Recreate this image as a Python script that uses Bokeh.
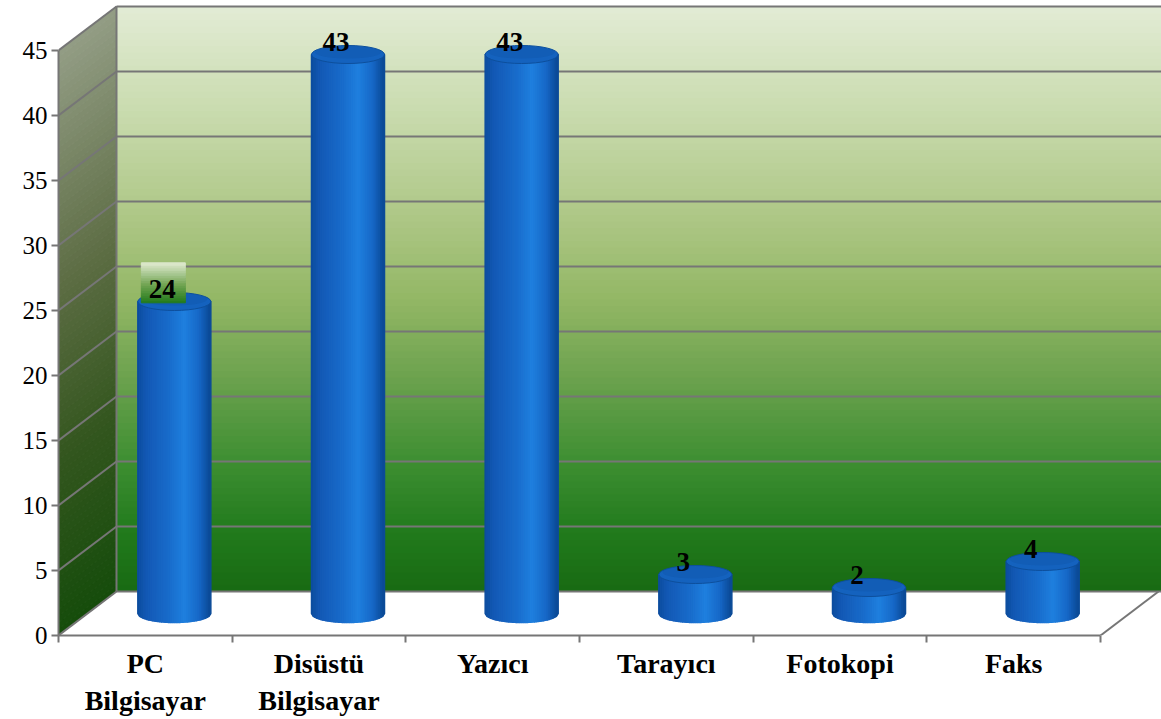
import numpy as np
from bokeh.plotting import figure
from bokeh.models import Range1d, FixedTicker
from bokeh.core.properties import value
from bokeh.embed import file_html
from bokeh.resources import INLINE

# ---- data ----
categories = ["PC\nBilgisayar", "Disüstü\nBilgisayar", "Yazıcı", "Tarayıcı", "Fotokopi", "Faks"]
values = [24, 43, 43, 3, 2, 4]
y_ticks = [0, 5, 10, 15, 20, 25, 30, 35, 40, 45]
y_max = 45

# ---- geometry (pixels -> data units) ----
W, H = 1161, 719
LEFT, BOTTOM = 58, 84
PX_CAT = 173.67          # px per category
PX_VAL = 13.0            # px per value unit
DX = 58 / PX_CAT         # depth offset in category units
DY = 44 / PX_VAL         # depth offset in value units
N = len(categories)

x_end = (W - LEFT) / PX_CAT
y_end = (H - BOTTOM) / PX_VAL

p = figure(width=W, height=H, output_backend="svg", toolbar_location=None,
           x_range=Range1d(0, x_end), y_range=Range1d(0, y_end),
           min_border_left=LEFT, min_border_bottom=BOTTOM,
           min_border_top=0, min_border_right=0,
           background_fill_color="white", border_fill_color="white")
p.outline_line_color = None
p.xgrid.visible = False
p.ygrid.visible = False


def hex2rgb(h):
    h = h.lstrip("#")
    return np.array([int(h[i:i + 2], 16) for i in (0, 2, 4)], float)


def grad(stops, t):
    for (t0, c0), (t1, c1) in zip(stops[:-1], stops[1:]):
        if t <= t1:
            f = 0 if t1 == t0 else (t - t0) / (t1 - t0)
            c = hex2rgb(c0) * (1 - f) + hex2rgb(c1) * f
            return "#%02x%02x%02x" % tuple(int(round(v)) for v in c)
    return stops[-1][1]


back_stops = [(0, "#186a12"), (0.1, "#217a1c"), (0.22, "#3d8e31"), (0.36, "#6aa14d"),
              (0.5, "#93b765"), (0.65, "#afc888"), (0.82, "#c9dbae"), (1.0, "#e2ecd5")]
side_stops = [(0, "#154c0b"), (0.3, "#33561e"), (0.6, "#5d6d44"), (1.0, "#939d85")]

# back wall gradient
steps = 90
vs = np.linspace(0, y_max, steps + 1)
bcols = [grad(back_stops, (a + b) / 2 / y_max) for a, b in zip(vs[:-1], vs[1:])]
p.quad(left=DX, right=x_end + 1, bottom=list(DY + vs[:-1]), top=list(DY + vs[1:]),
       fill_color=bcols, line_color=bcols, line_width=1)

# side wall gradient
xs_side, ys_side, cs_side = [], [], []
for a, b in zip(vs[:-1], vs[1:]):
    xs_side.append([0, DX, DX, 0])
    ys_side.append([a, a + DY, b + DY, b])
    cs_side.append(grad(side_stops, (a + b) / 2 / y_max))
p.patches(xs_side, ys_side, fill_color=cs_side, line_color=cs_side, line_width=1)

GRID = "#767676"
# back-wall gridlines & side diagonals
for v in y_ticks:
    p.segment(x0=DX, y0=DY + v, x1=x_end + 1, y1=DY + v, line_color=GRID, line_width=2)
    p.segment(x0=0, y0=v, x1=DX, y1=DY + v, line_color=GRID, line_width=2)
p.segment(x0=DX, y0=DY, x1=DX, y1=DY + y_max, line_color=GRID, line_width=2)
p.segment(x0=N, y0=0, x1=N + DX, y1=DY, line_color=GRID, line_width=2)

# ---- cylinders ----
CW = 73 / PX_CAT
EB = 9 / PX_VAL
body_stops = [(0, "#0b4c9c"), (0.12, "#1358b4"), (0.45, "#196dcc"), (0.65, "#1f80df"),
              (0.85, "#1667c6"), (1.0, "#0a4894")]
ns = 40
for i, v in enumerate(values):
    cx = i + 0.5 + DX / 2
    base = DY / 2
    top = base + v
    xs, ys, cs = [], [], []
    us = np.linspace(-1, 1, ns + 1)
    for u0, u1 in zip(us[:-1], us[1:]):
        x0 = cx + u0 * CW / 2
        x1 = cx + u1 * CW / 2
        b0 = base - EB * np.sqrt(max(0, 1 - u0 ** 2))
        b1 = base - EB * np.sqrt(max(0, 1 - u1 ** 2))
        xs.append([x0, x1, x1, x0])
        ys.append([top, top, b1, b0])
        cs.append(grad(body_stops, ((u0 + u1) / 2 + 1) / 2))
    p.patches(xs, ys, fill_color=cs, line_color=cs, line_width=1.5)
    p.ellipse(x=cx, y=top, width=CW, height=2 * EB, fill_color="#1462be",
              line_color="#0d4f9c", line_width=1)
    p.ellipse(x=cx, y=top + EB * 0.25, width=CW * 0.9, height=2 * EB * 0.7,
              fill_color="#0f58ad", fill_alpha=0.5, line_color=None)

# label box behind first value label
bx = 0.5 + DX / 2 - 11 / PX_CAT
bw = 44 / PX_CAT
bbot = DY / 2 + values[0] - 0.1
btop = bbot + 40 / PX_VAL
box_stops = [(0, "#217a1a"), (0.45, "#6fa350"), (1.0, "#e0ead0")]
bsteps = 16
bv = np.linspace(bbot, btop, bsteps + 1)
bxc = [grad(box_stops, (k + 0.5) / bsteps) for k in range(bsteps)]
p.quad(left=bx - bw / 2, right=bx + bw / 2, bottom=list(bv[:-1]), top=list(bv[1:]),
       fill_color=bxc, line_color=bxc, line_width=1)

# value labels
lx = [i + 0.5 + DX / 2 - 12 / PX_CAT for i in range(N)]
ly = [DY / 2 + v + 13 / PX_VAL for v in values]
p.text(x=lx, y=ly, text=[str(v) for v in values], text_font=value("Liberation Serif"),
       text_font_style="bold", text_font_size="27px", text_color="black",
       text_align="center", text_baseline="middle")

# ---- axes ----
ya = p.yaxis[0]
ya.ticker = FixedTicker(ticks=y_ticks, minor_ticks=[])
ya.bounds = (0, y_max)
ya.axis_line_color = GRID
ya.axis_line_width = 2
ya.major_tick_line_color = GRID
ya.major_tick_line_width = 2
ya.major_tick_out = 7
ya.major_tick_in = 0
ya.minor_tick_line_color = None
ya.minor_tick_out = 0
ya.minor_tick_in = 0
ya.major_label_standoff = 4
ya.major_label_text_font = "Liberation Serif"
ya.major_label_text_font_size = "25px"
ya.major_label_text_color = "black"

xa = p.xaxis[0]
centers = [i + 0.5 for i in range(N)]
xa.ticker = FixedTicker(ticks=centers, minor_ticks=list(range(N + 1)))
xa.bounds = (0, N)
xa.major_label_overrides = {c: lab for c, lab in zip(centers, categories)}
xa.axis_line_color = GRID
xa.axis_line_width = 2
xa.major_tick_line_color = None
xa.major_tick_out = 0
xa.major_tick_in = 0
xa.minor_tick_line_color = GRID
xa.minor_tick_line_width = 2
xa.minor_tick_out = 7
xa.minor_tick_in = 0
xa.major_label_standoff = 5
xa.major_label_text_font = "Liberation Serif"
xa.major_label_text_font_style = "bold"
xa.major_label_text_font_size = "28px"
xa.major_label_text_color = "black"

open("out.html", "w").write(file_html(p, INLINE))
